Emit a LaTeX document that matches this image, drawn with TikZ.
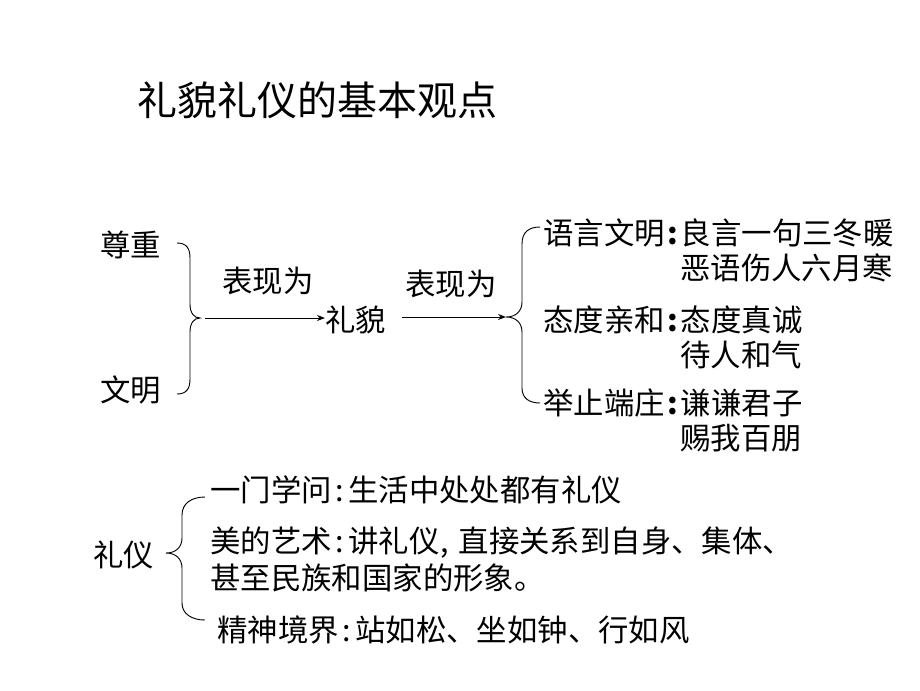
\documentclass[tikz,border=0pt]{standalone}
\usepackage{fontspec}
\setmainfont{Noto Sans CJK SC}
\usetikzlibrary{arrows.meta}
\newcommand\mycln{\hspace{3pt}:\hspace{3pt}}
\newcommand\mybcln{\hspace{2pt}\textbf{:}\hspace{2pt}}
\newcommand\mycma{\hspace{1pt},\hspace{7pt}}
\tikzset{
  txt/.style={anchor=west,inner sep=0pt,font=\fontsize{22.8pt}{27pt}\selectfont},
  ttl/.style={anchor=west,inner sep=0pt,font=\fontsize{30pt}{35pt}\selectfont},
  brace/.style={draw=black,line width=0.7pt},
  arr/.style={draw=black,line width=0.7pt,-{Stealth[length=6pt,width=4.5pt]}}
}
\begin{document}
\begin{tikzpicture}[x=0.75pt,y=-0.75pt]
\useasboundingbox (0,0) rectangle (920,690);
% title
\node[ttl] (title) at (137,100) {礼貌礼仪的基本观点};
% left part
\node[txt] (zz) at (100,245) {尊重};
\node[txt] (wm) at (100,390) {文明};
\path[brace] (177,243) .. controls (187,243) and (190,249) .. (190,258) -- (190,304)
  .. controls (190,313) and (194,318) .. (200,318)
  .. controls (194,318) and (190,323) .. (190,332) -- (190,379)
  .. controls (190,388) and (187,394) .. (177,394);
\coordinate (b1) at (205,318);
\node[txt] (lm) at (325,320) {礼貌};
\node[txt] (bx1) at (222,281) {表现为};
\node[txt] (bx2) at (405,284) {表现为};
\coordinate (b2) at (506,317);
\draw[arr] (b1) -- (lm.west |- b1);
\draw[arr] ([xshift=12pt]lm.east |- b2) -- (b2);
% right brace (left-opening)
\path[brace] (540,227) .. controls (529,227) and (522,232) .. (522,244) -- (522,302)
  .. controls (522,311) and (516,317) .. (506,317)
  .. controls (516,317) and (522,323) .. (522,332) -- (522,388)
  .. controls (522,398) and (529,403) .. (540,403);
% right texts
\node[txt] (r1) at (543,233) {语言文明\mybcln 良言一句三冬暖};
\node[txt] (r1b) at (680,268) {恶语伤人六月寒};
\node[txt] (r2) at (543,320) {态度亲和\mybcln 态度真诚};
\node[txt] (r2b) at (680,355) {待人和气};
\node[txt] (r3) at (543,403) {举止端庄\mybcln 谦谦君子};
\node[txt] (r3b) at (680,438) {赐我百朋};
% bottom
\node[txt] (ly) at (93,555) {礼仪};
\path[brace] (205,497) .. controls (192,497) and (182,503) .. (182,515) -- (182,538)
  .. controls (182,547) and (176,553) .. (166,553)
  .. controls (176,553) and (182,559) .. (182,568) -- (182,603)
  .. controls (182,614) and (192,620) .. (205,620);
\node[txt] (l1) at (210,490) {一门学问\mycln 生活中处处都有礼仪};
\node[txt] (l2) at (210,543) {美的艺术\mycln 讲礼仪\mycma 直接关系到自身、集体、};
\node[txt] (l2b) at (210,578) {甚至民族和国家的形象。};
\node[txt] (l3) at (217,630) {精神境界\mycln 站如松、坐如钟、行如风};
\end{tikzpicture}
\end{document}
